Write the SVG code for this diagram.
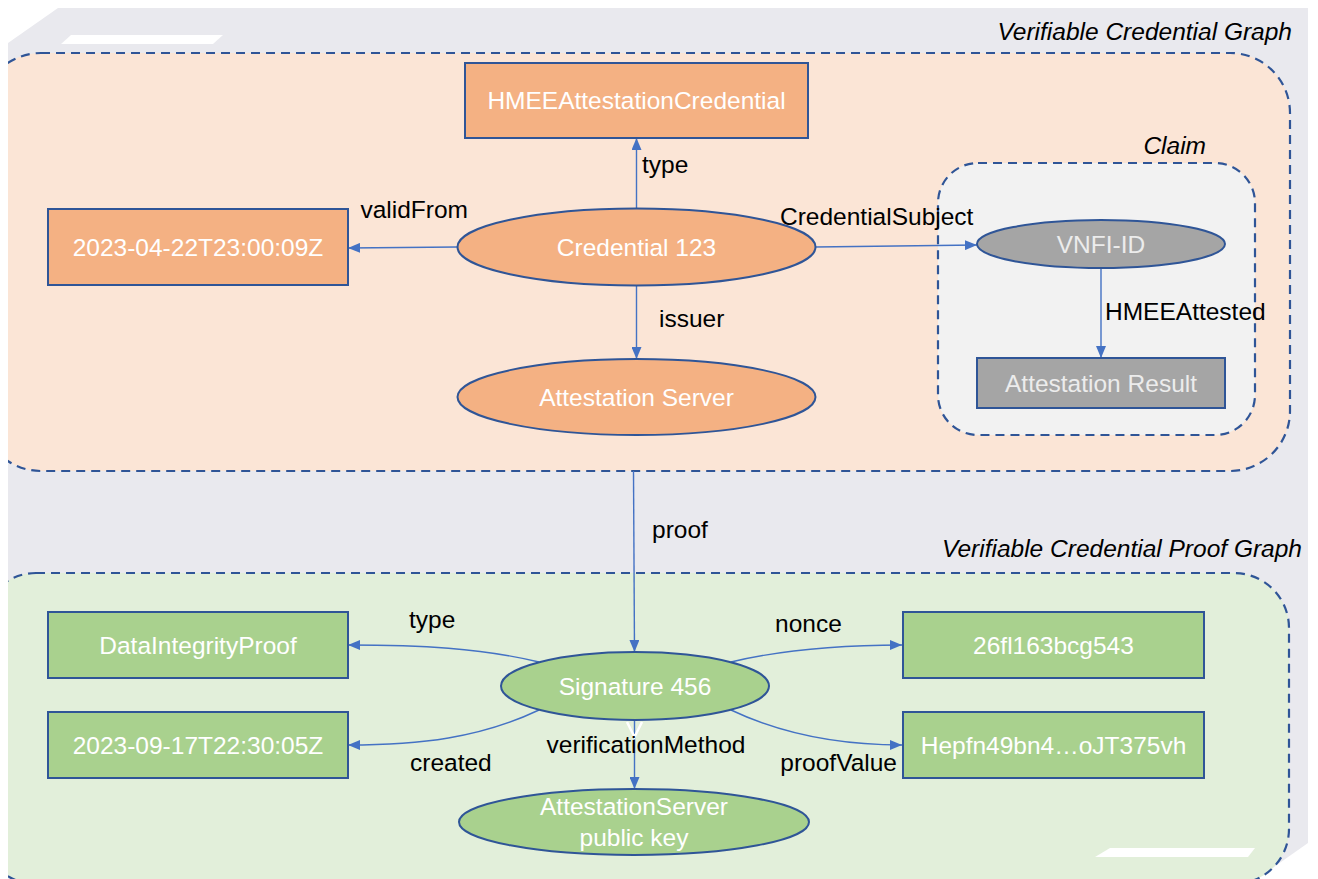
<svg xmlns="http://www.w3.org/2000/svg" width="1318" height="879" viewBox="0 0 1318 879">
<style>
text{font-family:"Liberation Sans",Arial,sans-serif;font-size:24.5px}
.lbl{fill:#000}
.ttl{fill:#000;font-style:italic}
.wt{fill:#fff;text-anchor:middle}
.gt{fill:#ececec;text-anchor:middle}
.cont{stroke:#2f5597;stroke-width:2.2;stroke-dasharray:9 6}
.org{fill:#f4b183;stroke:#2f5597;stroke-width:2}
.grn{fill:#a9d18e;stroke:#2f5597;stroke-width:2}
.gry{fill:#a5a5a5;stroke:#2f5597;stroke-width:2}
.edge{fill:none;stroke:#4472c4;stroke-width:1.4;marker-end:url(#arr)}
</style>
<defs>
<marker id="arr" markerUnits="userSpaceOnUse" markerWidth="12" markerHeight="10" refX="12" refY="5" orient="auto">
<path d="M0,0 L12,5 L0,10 z" fill="#4472c4"/>
</marker>
<clipPath id="clip"><rect x="8" y="0" width="1310" height="879"/></clipPath>
</defs>
<rect width="1318" height="879" fill="#fff"/>
<g id="backdrop">
<polygon points="58,8 1308,8 1308,843 1257,879 8,879 8,43" fill="#e9e9ee"/>
<polygon points="71,35 223,35 213,44 61,44" fill="#fff"/>
<polygon points="1110,848 1255,848 1248,857 1095,857" fill="#fff"/>
</g>
<g id="containers" clip-path="url(#clip)">
<g id="vc-graph">
<rect class="cont" x="-19" y="53" width="1309" height="418" rx="60" fill="#fbe5d6"/>
<text class="ttl" x="1292" y="40" text-anchor="end">Verifiable Credential Graph</text>
</g>
<g id="proof-graph">
<rect class="cont" x="-19" y="573" width="1308" height="311" rx="55" fill="#e2efda"/>
<text class="ttl" x="1302" y="557" text-anchor="end">Verifiable Credential Proof Graph</text>
</g>
</g>
<polygon points="1110,848 1255,848 1248,857 1095,857" fill="#fff"/>
<g id="claim">
<rect class="cont" x="938" y="163" width="317" height="272" rx="40" fill="#f2f2f2"/>
<text class="ttl" x="1206" y="154" text-anchor="end">Claim</text>
</g>
<g id="connectors">
<path class="edge" d="M636.5,208 L636.5,138"/>
<path class="edge" d="M457,247 L348,248"/>
<path class="edge" d="M815,247 L977,245"/>
<path class="edge" d="M636.5,286 L636.5,359"/>
<path class="edge" d="M1101,268 L1101,358"/>
<path class="edge" d="M633.5,471 L634.5,652"/>
<path class="edge" d="M539,662 C480,648 420,645 348,645"/>
<path class="edge" d="M539,710 C480,738 420,745 348,745"/>
<path class="edge" d="M731,662 C790,648 850,645 902,645"/>
<path class="edge" d="M731,710 C790,738 850,745 902,745"/>
<path class="edge" d="M634.5,720 L634.5,789"/>
<path d="M627,722 L634.5,737 L642,722" fill="none" stroke="#fff" stroke-width="2.5"/>
<text class="lbl" x="642" y="173">type</text>
<text class="lbl" x="468" y="218" text-anchor="end">validFrom</text>
<text class="lbl" x="780" y="225">CredentialSubject</text>
<text class="lbl" x="659" y="327">issuer</text>
<text class="lbl" x="1105" y="320">HMEEAttested</text>
<text class="lbl" x="652" y="538">proof</text>
<text class="lbl" x="409" y="628">type</text>
<text class="lbl" x="410" y="771">created</text>
<text class="lbl" x="775" y="632">nonce</text>
<text class="lbl" x="646" y="753" text-anchor="middle">verificationMethod</text>
<text class="lbl" x="897" y="771" text-anchor="end">proofValue</text>
</g>
<g id="n-hmee">
<rect class="org" x="465" y="63" width="343" height="75"/>
<text class="wt" x="636.5" y="109">HMEEAttestationCredential</text>
</g>
<g id="n-validfrom">
<rect class="org" x="48" y="209" width="300" height="76"/>
<text class="wt" x="198" y="256">2023-04-22T23:00:09Z</text>
</g>
<g id="n-credential">
<ellipse class="org" cx="636.5" cy="247" rx="179" ry="38.5"/>
<text class="wt" x="636.5" y="256">Credential 123</text>
</g>
<g id="n-vnfi">
<ellipse class="gry" cx="1101" cy="244" rx="124" ry="24"/>
<text class="gt" x="1101" y="253">VNFI-ID</text>
</g>
<g id="n-result">
<rect class="gry" x="977" y="358" width="248" height="50"/>
<text class="gt" x="1101" y="392">Attestation Result</text>
</g>
<g id="n-server">
<ellipse class="org" cx="636.5" cy="397" rx="179" ry="38"/>
<text class="wt" x="636.5" y="406">Attestation Server</text>
</g>
<g id="n-dip">
<rect class="grn" x="48" y="612" width="300" height="66"/>
<text class="wt" x="198" y="654">DataIntegrityProof</text>
</g>
<g id="n-created">
<rect class="grn" x="48" y="712" width="300" height="66"/>
<text class="wt" x="198" y="754">2023-09-17T22:30:05Z</text>
</g>
<g id="n-signature">
<ellipse class="grn" cx="635" cy="686" rx="134" ry="34"/>
<text class="wt" x="635" y="695">Signature 456</text>
</g>
<g id="n-nonce">
<rect class="grn" x="903" y="612" width="301" height="66"/>
<text class="wt" x="1053.5" y="654">26fl163bcg543</text>
</g>
<g id="n-proofvalue">
<rect class="grn" x="903" y="712" width="301" height="66"/>
<text class="wt" x="1053.5" y="754">Hepfn49bn4…oJT375vh</text>
</g>
<g id="n-pubkey">
<ellipse class="grn" cx="634" cy="822" rx="175" ry="33"/>
<text class="wt" x="634" y="815">AttestationServer</text>
<text class="wt" x="634" y="846">public key</text>
</g>
</svg>
